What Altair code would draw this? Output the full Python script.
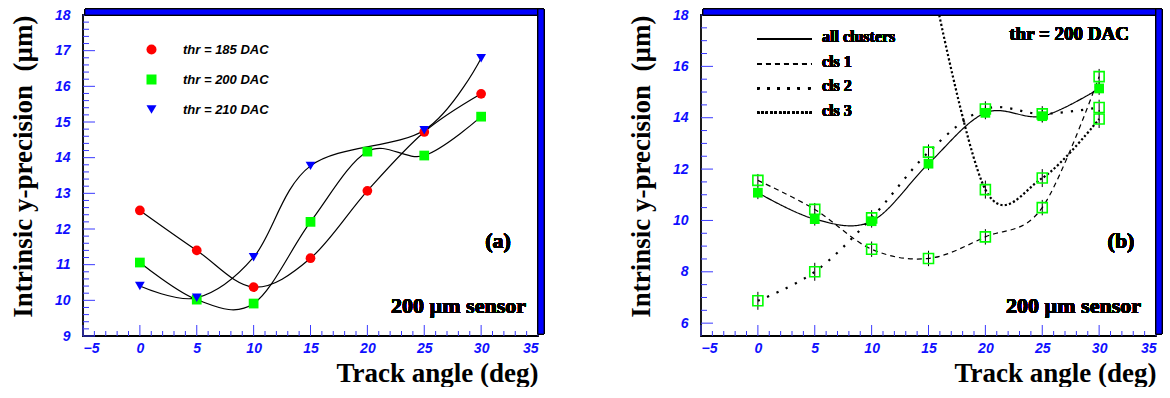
import altair as alt
import pandas as pd
import numpy as np

# ---------------- data ----------------
angles = [0, 5, 10, 15, 20, 25, 30]

thr_names = ["thr = 185 DAC", "thr = 200 DAC", "thr = 210 DAC"]
thr185 = [12.52, 11.40, 10.37, 11.18, 13.07, 14.72, 15.79]
thr200 = [11.06, 10.02, 9.91, 12.20, 14.17, 14.06, 15.15]
thr210 = [10.40, 10.07, 11.21, 13.77, None, 14.77, 16.79]

cls_names = ["all clusters", "cls 1", "cls 2", "cls 3"]
all_clusters = [11.08, 10.05, 9.97, 12.21, 14.19, 14.06, 15.14]
cls1 = [11.56, 10.43, 8.88, 8.52, 9.36, 10.50, 15.60]
cls2 = [6.87, 8.00, 10.10, 12.66, 14.34, 14.15, 14.40]
cls3 = [None, None, None, 20.0, 11.20, 11.65, 13.95]
err_all = [0.25, 0.25, 0.25, 0.25, 0.25, 0.25, 0.25]
err_cls1 = [0.25, 0.25, 0.3, 0.3, 0.3, 0.3, 0.3]
err_cls2 = [0.35, 0.35, 0.3, 0.3, 0.3, 0.3, 0.3]
err_cls3 = [None, None, None, None, 0.35, 0.35, 0.35]

x_labels = [-5, 0, 5, 10, 15, 20, 25, 30, 35]
left_y_labels = [9, 10, 11, 12, 13, 14, 15, 16, 17, 18]
right_y_labels = [6, 8, 10, 12, 14, 16, 18]


def to_long(names, series, errs=None):
    rows = []
    for i, (n, vals) in enumerate(zip(names, series)):
        for j, (a, v) in enumerate(zip(angles, vals)):
            if v is None:
                continue
            r = {"angle": a, "value": v, "series": n}
            if errs is not None:
                e = errs[i][j]
                r["lo"] = v - (e or 0)
                r["hi"] = v + (e or 0)
            rows.append(r)
    return pd.DataFrame(rows)


left_df = to_long(thr_names, [thr185, thr200, thr210])
right_df = to_long(cls_names, [all_clusters, cls1, cls2, cls3],
                   [err_all, err_cls1, err_cls2, err_cls3])

W, H = 455, 321
BLUE_TXT = "#0f0fff"
TICK_C = "#3a3aff"
SERIF = "Liberation Serif"
SANS = "Liberation Sans"

xscale = alt.Scale(domain=[-5, 35], nice=False, zero=False)


def minor(lo, hi, step, majors):
    vals = np.round(np.arange(lo, hi + 1e-9, step), 3)
    return pd.DataFrame({"v": [v for v in vals if not np.any(np.isclose(v, majors))]})


def make_axes(ylabels, title_y):
    xaxis = alt.Axis(values=x_labels, ticks=False, tickSize=0, domain=False, grid=False,
                     labelOverlap=False,
                     labelFont=SANS, labelFontSize=14, labelFontStyle="italic",
                     labelFontWeight="bold", labelColor=BLUE_TXT, labelPadding=5,
                     title="Track angle (deg)", titleFont=SERIF, titleFontSize=27,
                     titleFontWeight="bold", titleColor="black", titleAnchor="end",
                     titlePadding=5)
    yaxis = alt.Axis(values=ylabels, ticks=False, tickSize=0, domain=False, grid=False,
                     labelOverlap=False,
                     labelFont=SANS, labelFontSize=14, labelFontStyle="italic",
                     labelFontWeight="bold", labelColor=BLUE_TXT, labelPadding=13,
                     title=title_y, titleFont=SERIF, titleFontSize=27,
                     titleFontWeight="bold", titleColor="black", titleAnchor="end",
                     titlePadding=17)
    return xaxis, yaxis


def frame_layers(ydom, ymaj, ymin_step, xaxis, yaxis):
    yscale = alt.Scale(domain=ydom, nice=False, zero=False)
    base_x = alt.X("v:Q", scale=xscale, axis=xaxis)
    base_y = alt.Y("v:Q", scale=yscale, axis=yaxis)
    xmaj = pd.DataFrame({"v": x_labels})
    xmin = minor(-5, 35, 1, x_labels)
    ymj = pd.DataFrame({"v": ymaj})
    ymn = minor(ydom[0], ydom[1], ymin_step, ymaj)
    ymn = ymn[ymn.v > ydom[0] + 1e-6]
    lay = [
        alt.Chart(xmaj).mark_rule(color=TICK_C, strokeWidth=1).encode(
            x=base_x, y=alt.value(H), y2=alt.value(H - 11)),
        alt.Chart(xmin).mark_rule(color=TICK_C, strokeWidth=1).encode(
            x=base_x, y=alt.value(H), y2=alt.value(H - 5)),
        alt.Chart(ymj).mark_rule(color=TICK_C, strokeWidth=1).encode(
            y=base_y, x=alt.value(0), x2=alt.value(12)),
        alt.Chart(ymn).mark_rule(color=TICK_C, strokeWidth=1).encode(
            y=base_y, x=alt.value(0), x2=alt.value(6)),
        # 3-D blue frame shadow
        alt.Chart(xmaj).mark_rect(color="#0000ff", stroke="black", strokeWidth=0.8).encode(
            x=alt.value(2), x2=alt.value(W + 6), y=alt.value(-6), y2=alt.value(0)),
        alt.Chart(xmaj).mark_rect(color="#0000ff", stroke="black", strokeWidth=0.8).encode(
            x=alt.value(W), x2=alt.value(W + 6), y=alt.value(-6), y2=alt.value(H - 2)),
    ]
    return lay, yscale


YTITLE = "Intrinsic y-precision \u00a0(\u00b5m)"

# ---------------- left panel ----------------
xax_l, yax_l = make_axes(left_y_labels, YTITLE)
lay_l, ysc_l = frame_layers([9, 18], left_y_labels, 0.2, xax_l, yax_l)

lines_l = alt.Chart(left_df).mark_line(interpolate="cardinal", color="black",
                                        strokeWidth=1.2, clip=True).encode(
    x=alt.X("angle:Q", scale=xscale, axis=xax_l),
    y=alt.Y("value:Q", scale=ysc_l, axis=yax_l),
    detail="series:N",
)
points_l = alt.Chart(left_df).mark_point(filled=True, opacity=1, size=95).encode(
    x=alt.X("angle:Q", scale=xscale, axis=xax_l),
    y=alt.Y("value:Q", scale=ysc_l, axis=yax_l),
    color=alt.Color("series:N", scale=alt.Scale(domain=thr_names,
                                                range=["#ff0000", "#00ff00", "#0000ff"]),
                    legend=alt.Legend(title=None, orient="none", legendX=62, legendY=28,
                                      symbolSize=100, labelFont=SANS, labelFontSize=13,
                                      labelFontStyle="italic", labelFontWeight="bold",
                                      labelColor="black", labelOffset=25, rowPadding=16,
                                      symbolStrokeWidth=0)),
    shape=alt.Shape("series:N", scale=alt.Scale(domain=thr_names,
                                                range=["circle", "square", "triangle-down"]),
                    legend=alt.Legend(title=None, orient="none", legendX=62, legendY=28)),
)
txt_a = alt.Chart(left_df).mark_text(text="(a)", font=SERIF, fontSize=22, fontWeight="bold",
                                     align="center", baseline="middle").encode(
    x=alt.value(415), y=alt.value(226))
txt_s1 = alt.Chart(left_df).mark_text(text="200 \u00b5m sensor", font=SERIF, fontSize=22,
                                      fontWeight="bold", align="right",
                                      baseline="middle").encode(
    x=alt.value(443), y=alt.value(291))

left = alt.layer(*lay_l, lines_l, points_l, txt_a, txt_s1).properties(width=W, height=H)

# ---------------- right panel ----------------
xax_r, yax_r = make_axes(right_y_labels, YTITLE)
lay_r, ysc_r = frame_layers([5.5, 18], right_y_labels, 0.5, xax_r, yax_r)

styles = {
    "all clusters": dict(strokeWidth=1.2, strokeDash=[1, 0]),
    "cls 1": dict(strokeWidth=1.2, strokeDash=[5, 4]),
    "cls 2": dict(strokeWidth=2.2, strokeDash=[2.2, 8]),
    "cls 3": dict(strokeWidth=2.2, strokeDash=[2.2, 2.2]),
}
line_layers = []
legend_layers = []
for i, name in enumerate(cls_names):
    st = styles[name]
    line_layers.append(
        alt.Chart(right_df).transform_filter(alt.datum.series == name).mark_line(
            interpolate="cardinal", color="black", clip=True, **st).encode(
            x=alt.X("angle:Q", scale=xscale, axis=xax_r),
            y=alt.Y("value:Q", scale=ysc_r, axis=yax_r),
        )
    )
    row_y = 24 + 24.6 * i
    legend_layers.append(
        alt.Chart(right_df).mark_rule(color="black", **st).encode(
            x=alt.value(56), x2=alt.value(111), y=alt.value(row_y))
    )
    legend_layers.append(
        alt.Chart(right_df).mark_text(text=name, font=SERIF, fontSize=16, fontWeight="bold",
                                      align="left", baseline="alphabetic").encode(
            x=alt.value(121), y=alt.value(row_y + 3))
    )

err_r = alt.Chart(right_df).mark_rule(color="black", strokeWidth=1, clip=True).encode(
    x=alt.X("angle:Q", scale=xscale),
    y=alt.Y("lo:Q", scale=ysc_r),
    y2="hi:Q",
)
open_r = alt.Chart(right_df).transform_filter(
    alt.datum.series != "all clusters").mark_point(
    shape="square", filled=False, size=100, color="#00ff00", strokeWidth=1.6,
    opacity=1, clip=True).encode(
    x=alt.X("angle:Q", scale=xscale),
    y=alt.Y("value:Q", scale=ysc_r),
)
filled_r = alt.Chart(right_df).transform_filter(
    alt.datum.series == "all clusters").mark_point(
    shape="square", filled=True, size=95, color="#00ff00", opacity=1, clip=True).encode(
    x=alt.X("angle:Q", scale=xscale),
    y=alt.Y("value:Q", scale=ysc_r),
)
txt_b = alt.Chart(right_df).mark_text(text="(b)", font=SERIF, fontSize=22, fontWeight="bold",
                                      align="center", baseline="middle").encode(
    x=alt.value(420), y=alt.value(226))
txt_s2 = alt.Chart(right_df).mark_text(text="200 \u00b5m sensor", font=SERIF, fontSize=22,
                                       fontWeight="bold", align="right",
                                       baseline="middle").encode(
    x=alt.value(440), y=alt.value(291))
txt_thr = alt.Chart(right_df).mark_text(text="thr = 200 DAC", font=SERIF, fontSize=19,
                                        fontWeight="bold", align="right",
                                        baseline="middle").encode(
    x=alt.value(428), y=alt.value(19))

right = alt.layer(*lay_r, *line_layers, err_r, open_r, filled_r, *legend_layers,
                  txt_b, txt_s2, txt_thr).properties(width=W, height=H)

chart = alt.hconcat(left, right, spacing=80).resolve_scale(
    color="independent", shape="independent", y="independent"
).properties(
    padding={"left": 8, "top": 7, "right": 0, "bottom": 0},
    background="white",
).configure_view(stroke="black", strokeWidth=1.8)

chart.save("out.html", embed_options={"renderer": "svg", "actions": False})
